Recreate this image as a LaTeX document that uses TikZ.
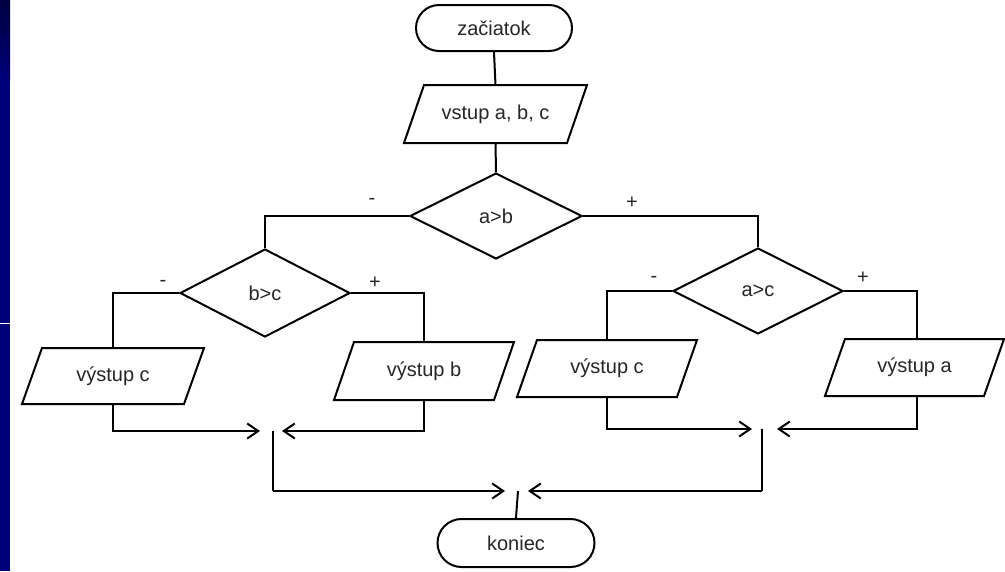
\documentclass[tikz,border=0pt]{standalone}
\usepackage{fontspec}
\setmainfont{Liberation Sans}
\usetikzlibrary{shapes.geometric,arrows.meta}
\definecolor{navyA}{RGB}{0,0,122}
\definecolor{navyB}{RGB}{0,0,64}
\begin{document}
\begin{tikzpicture}[x=1pt,y=-1pt,
  base/.style={draw=black,line width=2pt,inner sep=0pt,font=\fontsize{20}{24}\selectfont,text=black!85},
  term/.style={base,rectangle,rounded corners=23pt},
  io/.style={base,rectangle,draw=none},
  ioframe/.style={draw=black,line width=2pt,line join=miter},
  dec/.style={base,diamond},
  lbl/.style={font=\fontsize{20}{24}\selectfont,inner sep=0pt,text=black!85},
  conn/.style={line width=2pt},
  arr/.style={conn,-{Straight Barb[length=11pt,width=15pt]}}
]
\useasboundingbox (0,0) rectangle (1005,571);
\fill[white] (0,0) rectangle (1005,571);
% left strip
\fill[navyA] (0,0) rectangle (10,571);
\shade[top color=navyB,bottom color=navyA] (0,0) rectangle (10,80);
\draw[white,line width=1pt] (0,323) -- (10,323);

% nodes
\node[term,minimum width=156pt,minimum height=46pt] (start) at (494,28) {začiatok};
\node[io,minimum width=181pt,minimum height=56pt] (in) at (495.5,114) {vstup a, b, c};
\node[dec,minimum width=172pt,minimum height=86pt] (d1) at (496,216) {a>b};
\node[dec,minimum width=170pt,minimum height=88pt] (d2) at (265,293) {b>c};
\node[dec,minimum width=170pt,minimum height=86pt] (d3) at (758,291) {a>c};
\node[io,minimum width=180pt,minimum height=54pt] (o1) at (113,376) {výstup c};
\node[io,minimum width=178pt,minimum height=56pt] (o2) at (424,371) {výstup b};
\node[io,minimum width=178pt,minimum height=55pt] (o3) at (607,368.5) {výstup c};
\node[io,minimum width=177pt,minimum height=55pt] (o4) at (914.5,367.5) {výstup a};
\node[term,minimum width=157pt,minimum height=48pt,rounded corners=24pt] (stop) at (516,543) {koniec};

% parallelogram outlines of the input/output nodes
\foreach \n in {in,o1,o2,o3,o4}
  \draw[ioframe] ([xshift=20pt]\n.north west) -- (\n.north east)
    -- ([xshift=-20pt]\n.south east) -- (\n.south west) -- cycle;

% branch labels
\node[lbl] (l1m) at (372,201) {-};
\node[lbl] (l1p) at (632,203) {+};
\node[lbl] (l2m) at (163,283) {-};
\node[lbl] (l2p) at (375,283) {+};
\node[lbl] (l3m) at (654,279) {-};
\node[lbl] (l3p) at (863,278) {+};

% merge points
\coordinate (m1) at (273,431);
\coordinate (m2) at (762,429);
\coordinate (m3) at (518,491);

% connectors
\draw[conn] (start.south) -- (in.north);
\draw[conn] (in.south) -- (d1.north);
\draw[conn] (d1.west) -| (d2.north);
\draw[conn] (d1.east) -| (d3.north);
\draw[conn] (d2.west) -| (o1.north);
\draw[conn] (d2.east) -| (o2.north);
\draw[conn] (d3.west) -| (o3.north);
\draw[conn] (d3.east) -| ([xshift=2.5pt]o4.north);

\draw[arr] (o1.south) |- ([xshift=-13pt]m1);
\draw[arr] (o2.south) |- ([xshift=9pt]m1);
\draw[arr] (o3.south) |- ([xshift=-10pt]m2);
\draw[arr] ([xshift=2.5pt]o4.south) |- ([xshift=15pt]m2);
\draw[conn] (m1) -- (m1 |- m3);
\draw[arr] (m1 |- m3) -- ([xshift=-13pt]m3);
\draw[conn] (m2) -- (m2 |- m3);
\draw[arr] (m2 |- m3) -- ([xshift=10pt]m3);
\draw[conn] (m3) -- (stop.north);
\end{tikzpicture}
\end{document}
